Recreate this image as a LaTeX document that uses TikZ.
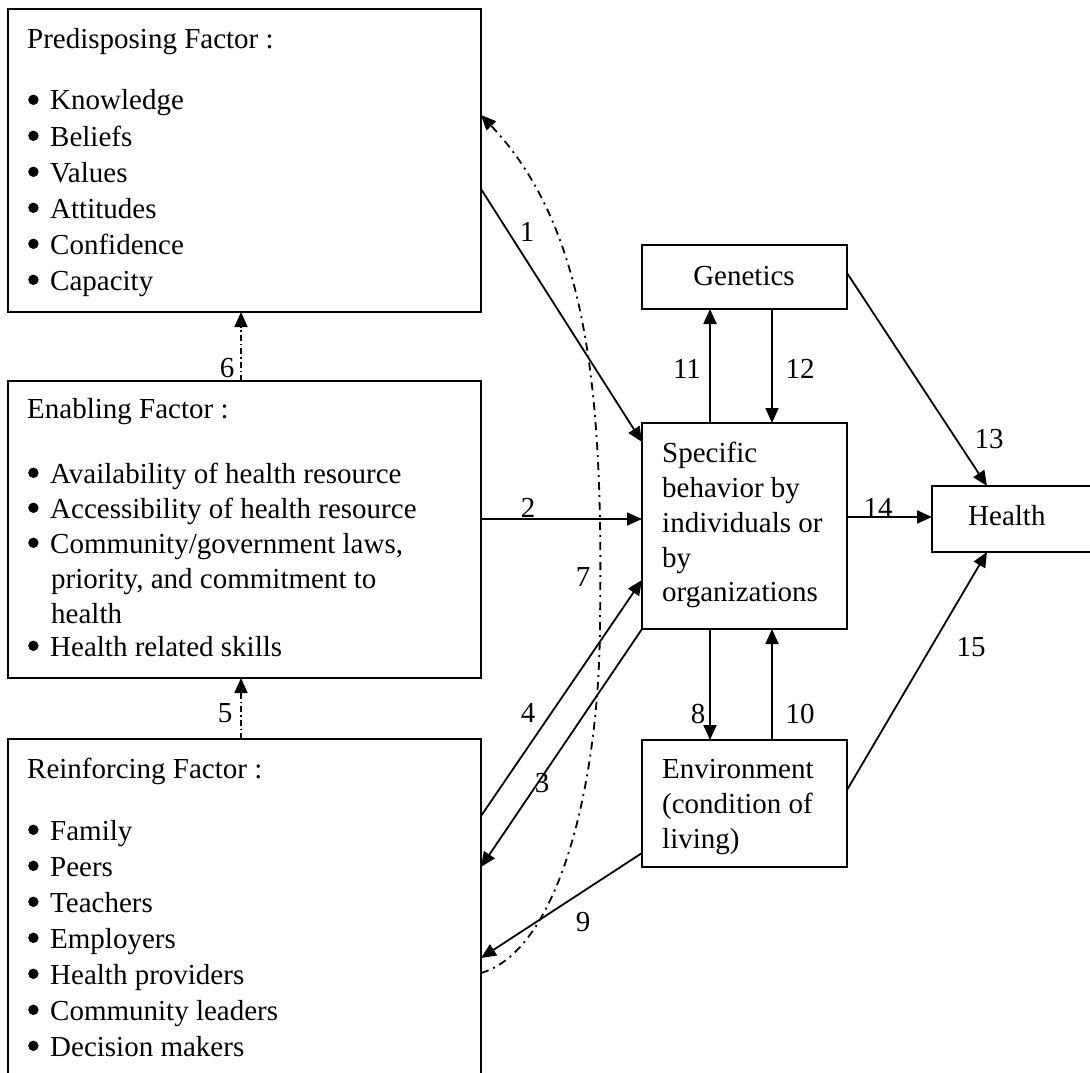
\documentclass[tikz,border=0pt]{standalone}
\usepackage{fontspec}
\setmainfont{Liberation Serif}
\usetikzlibrary{arrows.meta}
\newcommand\itembul{\makebox[23pt][l]{\hspace{1pt}\raisebox{5pt}{\tikz\fill (0,0) circle (5.2pt);}}}
\begin{document}
\begin{tikzpicture}[x=1pt,y=-1pt,
  box/.style={draw, line width=1.8pt, rectangle, inner sep=0pt, outer sep=0pt},
  txt/.style={inner sep=0pt, anchor=base west, font=\fontsize{29}{36}\selectfont},
  lab/.style={inner sep=0pt, font=\fontsize{29}{36}\selectfont},
  conn/.style={line width=1.8pt, -{Triangle[length=15pt,width=13pt]}},
  ddlong/.style={conn, dash pattern=on 8pt off 5pt on 2pt off 5pt},
  ddshort/.style={conn, dash pattern=on 6pt off 3pt on 1.5pt off 3pt},
]
\fill[white] (0,0) rectangle (1090,1073);
\useasboundingbox (0,0) rectangle (1090,1073);

% boxes
\node[box, minimum width=473pt, minimum height=303pt] (pre) at (244.5,160.5) {};
\node[box, minimum width=473pt, minimum height=297pt] (enab) at (244.5,529.5) {};
\node[box, minimum width=473pt, minimum height=361pt] (reinf) at (244.5,919.5) {};
\node[box, minimum width=205pt, minimum height=64pt] (gen) at (744.5,277) {};
\node[box, minimum width=205pt, minimum height=206pt] (spec) at (744.5,526) {};
\node[box, minimum width=205pt, minimum height=127pt] (env) at (744.5,803.5) {};
\node[box, minimum width=188pt, minimum height=66pt] (health) at (1026,519) {};

% predisposing text
\node[txt] (preT) at (27,49) {Predisposing Factor :};
\node[txt] (pre1) at (27,110) {\itembul Knowledge};
\node[txt] (pre2) at (27,146) {\itembul Beliefs};
\node[txt] (pre3) at (27,182) {\itembul Values};
\node[txt] (pre4) at (27,218) {\itembul Attitudes};
\node[txt] (pre5) at (27,254) {\itembul Confidence};
\node[txt] (pre6) at (27,290) {\itembul Capacity};

% enabling text
\node[txt] (enT) at (27,418) {Enabling Factor :};
\node[txt] (en1) at (27,483) {\itembul Availability of health resource};
\node[txt] (en2) at (27,518) {\itembul Accessibility of health resource};
\node[txt] (en3) at (27,553) {\itembul Community/government laws,};
\node[txt] (en4) at (51,588) {priority, and commitment to};
\node[txt] (en5) at (51,623) {health};
\node[txt] (en6) at (27,656) {\itembul Health related skills};

% reinforcing text
\node[txt] (reT) at (27,778) {Reinforcing Factor :};
\node[txt] (re1) at (27,840) {\itembul Family};
\node[txt] (re2) at (27,876) {\itembul Peers};
\node[txt] (re3) at (27,912) {\itembul Teachers};
\node[txt] (re4) at (27,948) {\itembul Employers};
\node[txt] (re5) at (27,984) {\itembul Health providers};
\node[txt] (re6) at (27,1020) {\itembul Community leaders};
\node[txt] (re7) at (27,1056) {\itembul Decision makers};

% right-side texts
\node[lab, anchor=base] (genT) at (744,285) {Genetics};
\node[txt] (sp1) at (662,462) {Specific};
\node[txt] (sp2) at (662,497) {behavior by};
\node[txt] (sp3) at (662,532) {individuals or};
\node[txt] (sp4) at (662,567) {by};
\node[txt] (sp5) at (662,601) {organizations};
\node[txt] (hT) at (968,525) {Health};
\node[txt] (ev1) at (662,778) {Environment};
\node[txt] (ev2) at (662,813) {(condition of};
\node[txt] (ev3) at (662,848) {living)};

% connectors
\draw[conn] (pre.east |- 0,189) -- (spec.west |- 0,442);
\draw[conn] (enab.east |- 0,519) -- (spec.west |- 0,519);
\draw[conn] (spec.south west) -- (reinf.east |- 0,867);
\draw[conn] (reinf.east |- 0,816) -- (spec.west |- 0,580);
\draw[ddshort] (reinf.north -| 241,0) -- (enab.south -| 241,0);
\draw[ddshort] (enab.north -| 241,0) -- (pre.south -| 241,0);
\draw[ddlong] (reinf.east |- 0,973) .. controls (560,950) and (600,780) .. (600,620)
   .. controls (603,400) and (590,230) .. (pre.east |- 0,115);
\draw[conn] (spec.south -| 710,0) -- (env.north -| 710,0);
\draw[conn] (env.west |- 0,853) -- (reinf.east |- 0,958);
\draw[conn] (env.north -| 772,0) -- (spec.south -| 772,0);
\draw[conn] (spec.north -| 710,0) -- (gen.south -| 710,0);
\draw[conn] (gen.south -| 772,0) -- (spec.north -| 772,0);
\draw[conn] (gen.east |- 0,273) -- (health.north -| 987,0);
\draw[conn] (spec.east |- 0,517) -- (health.west |- 0,517);
\draw[conn] (env.east |- 0,790) -- (health.south -| 987,0);

% labels
\node[lab] (l1) at (527,232) {1};
\node[lab] (l2) at (528,508) {2};
\node[lab] (l3) at (542,783) {3};
\node[lab] (l4) at (528,713) {4};
\node[lab] (l5) at (225,713) {5};
\node[lab] (l6) at (227,368) {6};
\node[lab] (l7) at (583,577) {7};
\node[lab] (l8) at (698,714) {8};
\node[lab] (l9) at (583,922) {9};
\node[lab] (l10) at (800,714) {10};
\node[lab] (l11) at (687,369) {11};
\node[lab] (l12) at (800,369) {12};
\node[lab] (l13) at (989,439) {13};
\node[lab] (l14) at (878,508) {14};
\node[lab] (l15) at (971,647) {15};
\end{tikzpicture}
\end{document}
